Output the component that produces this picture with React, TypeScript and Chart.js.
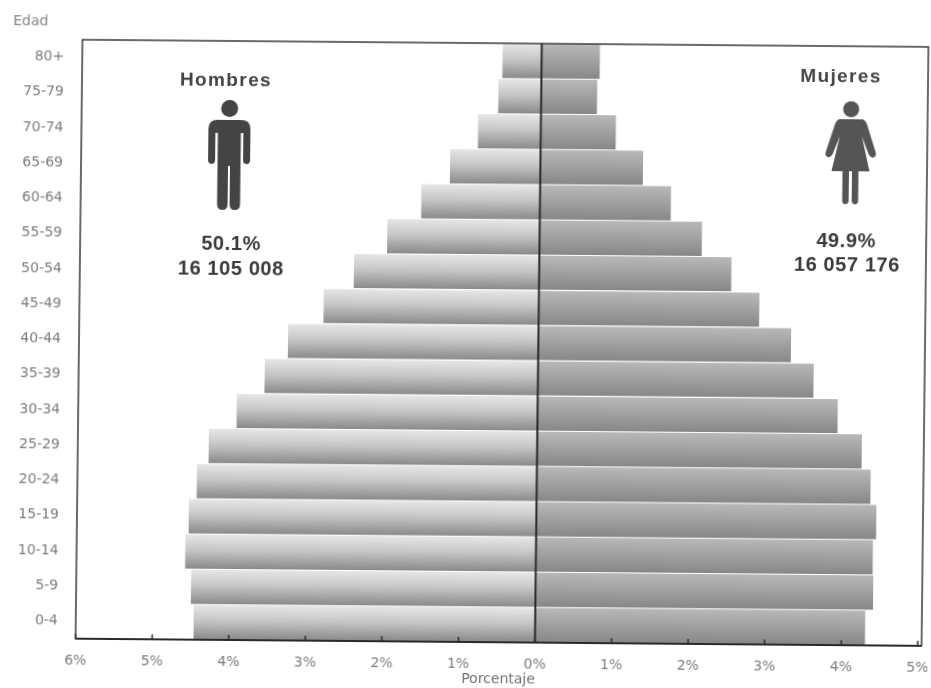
import React, { useEffect, useRef } from "react";
import { Chart, registerables } from "chart.js";

Chart.register(...registerables);

const ageGroups = ["80+","75-79","70-74","65-69","60-64","55-59","50-54","45-49","40-44","35-39","30-34","25-29","20-24","15-19","10-14","5-9","0-4"];
const menPercent = [0.51,0.56,0.82,1.18,1.55,1.99,2.42,2.81,3.27,3.57,3.93,4.29,4.44,4.54,4.58,4.50,4.46];
const womenPercent = [0.76,0.73,0.98,1.34,1.71,2.12,2.51,2.88,3.30,3.60,3.92,4.24,4.36,4.44,4.40,4.41,4.31];

const LABEL_FONT = '"DejaVu Sans", Verdana, sans-serif';
const HEAD_FONT = '"Liberation Sans", Arial, sans-serif';

const man = new Path2D("M-21,29 Q-21,20 -12,20 L12,20 Q21,20 21,29 L21,60 Q21,64 17.5,64 Q14,64 14,60 L14,33 L11.5,33 L11.5,104 Q11.5,110 6,110 Q1,110 1,104 L1,66 L-1,66 L-1,104 Q-1,110 -6,110 Q-11.5,110 -11.5,104 L-11.5,33 L-14,33 L-14,60 Q-14,64 -17.5,64 Q-21,64 -21,60 Z");
const woman = new Path2D("M-11,19 L11,19 Q14,19 16,24 L25,52 Q26,56 23,57 Q20,58 18,54 L11,36 L19,71 L8,71 L8,100 Q8,104 5,104 Q1.5,104 1.5,100 L1.5,71 L-1.5,71 L-1.5,100 Q-1.5,104 -5,104 Q-8,104 -8,100 L-8,71 L-19,71 L-11,36 L-18,54 Q-20,58 -23,57 Q-26,56 -25,52 L-16,24 Q-14,19 -11,19 Z");

const barGradient = {
  id: "barGradient",
  beforeDatasetsDraw(chart: any) {
    const { ctx } = chart;
    const stops = [
      [["#e6e6e6", 0], ["#c6c6c6", 0.45], ["#8a8a8a", 1]],
      [["#b8b8b8", 0], ["#a2a2a2", 0.45], ["#878787", 1]],
    ];
    chart.data.datasets.forEach((_: any, d: number) => {
      chart.getDatasetMeta(d).data.forEach((el: any) => {
        const h = el.height;
        const g = ctx.createLinearGradient(0, el.y - h / 2, 0, el.y + h / 2);
        stops[d].forEach((s: any) => g.addColorStop(s[1], s[0]));
        el.options = { ...el.options, backgroundColor: g };
      });
    });
  },
};

const decorations = {
  id: "decorations",
  afterDatasetsDraw(chart: any) {
    const { ctx, chartArea: a, scales } = chart;
    ctx.save();
    ctx.strokeStyle = "#3a3a3a";
    ctx.lineWidth = 1.5;
    ctx.strokeRect(a.left, a.top, a.right - a.left, a.bottom - a.top);
    const z = scales.x.getPixelForValue(0);
    ctx.lineWidth = 2;
    ctx.strokeStyle = "#2a2a2a";
    ctx.beginPath();
    ctx.moveTo(z, a.top);
    ctx.lineTo(z, a.bottom);
    ctx.stroke();
    ctx.beginPath();
    ctx.moveTo(a.left, a.bottom);
    ctx.lineTo(a.right, a.bottom);
    ctx.stroke();
    ctx.lineWidth = 1.5;
    scales.x.ticks.forEach((t: any) => {
      const x = scales.x.getPixelForValue(t.value);
      ctx.beginPath();
      ctx.moveTo(x, a.bottom);
      ctx.lineTo(x, a.bottom - 5);
      ctx.stroke();
    });

    ctx.textAlign = "center";
    ctx.textBaseline = "middle";
    ctx.fillStyle = "#444";
    ctx.font = `bold 19px ${HEAD_FONT}`;
    (ctx as any).letterSpacing = "1.4px";
    ctx.fillText("Hombres", 223, 83);
    ctx.fillText("Mujeres", 838, 74);
    (ctx as any).letterSpacing = "0.6px";
    ctx.font = `bold 20px ${HEAD_FONT}`;
    ctx.fillStyle = "#3a3a3a";
    ctx.fillText("50.1%", 230, 246);
    ctx.fillText("16 105 008", 230, 271);
    ctx.fillText("49.9%", 845, 238);
    ctx.fillText("16 057 176", 846, 262);
    (ctx as any).letterSpacing = "0px";
    ctx.font = `14px ${LABEL_FONT}`;
    ctx.fillStyle = "#858585";
    ctx.fillText("Edad", 27, 25);

    ctx.fillStyle = "#444";
    ctx.save();
    ctx.translate(227, 102);
    ctx.beginPath();
    ctx.arc(0, 8.5, 8.5, 0, Math.PI * 2);
    ctx.fill();
    ctx.fill(man);
    ctx.restore();
    ctx.fillStyle = "#555";
    ctx.save();
    ctx.translate(848.5, 97);
    ctx.beginPath();
    ctx.arc(0, 9, 8, 0, Math.PI * 2);
    ctx.fill();
    ctx.fill(woman);
    ctx.restore();
    ctx.restore();
  },
};

export default function App() {
  const ref = useRef<HTMLCanvasElement>(null);
  useEffect(() => {
    const chart = new Chart(ref.current!, {
      type: "bar",
      data: {
        labels: ageGroups,
        datasets: [
          { label: "Hombres", data: menPercent.map((v) => -v), backgroundColor: "#bbb" },
          { label: "Mujeres", data: womenPercent, backgroundColor: "#999" },
        ],
      },
      plugins: [barGradient, decorations],
      options: {
        indexAxis: "y",
        responsive: false,
        animation: false,
        layout: { autoPadding: false, padding: { left: 0, right: 6, top: 43, bottom: 0 } },
        plugins: { legend: { display: false }, tooltip: { enabled: false } },
        datasets: { bar: { barPercentage: 0.97, categoryPercentage: 1 } },
        scales: {
          x: {
            stacked: true,
            min: -6,
            max: 5.05,
            grid: { display: false },
            border: { display: false },
            ticks: {
              stepSize: 1,
              includeBounds: false,
              maxRotation: 0,
              padding: 6,
              color: "#7c7c7c",
              font: { family: LABEL_FONT, size: 14 },
              callback: (v: any) => `${Math.abs(v)}%`,
            },
            title: { display: true, text: "Porcentaje", color: "#707070", padding: 0, font: { family: LABEL_FONT, size: 14 } },
            afterFit: (s: any) => {
              s.height = 46;
              s.paddingLeft = 0;
              s.paddingRight = 0;
            },
          },
          y: {
            stacked: true,
            grid: { display: false },
            border: { display: false },
            ticks: {
              padding: 10,
              color: "#7c7c7c",
              autoSkip: false,
              font: { family: LABEL_FONT, size: 14 },
            },
            afterFit: (s: any) => { s.width = 79; },
          },
        },
      } as any,
    });
    return () => chart.destroy();
  }, []);
  return (
    <div style={{ position: "fixed", left: 0, top: 0, width: 931, height: 688, background: "#fff", overflow: "hidden" }}>
      <canvas
        ref={ref}
        width={931}
        height={688}
        style={{
          display: "block",
          transformOrigin: "465.5px 344px",
          transform: "matrix(1, 0.0085, -0.0115, 1, 0, 0)",
          filter: "blur(0.6px)",
        }}
      />
    </div>
  );
}
